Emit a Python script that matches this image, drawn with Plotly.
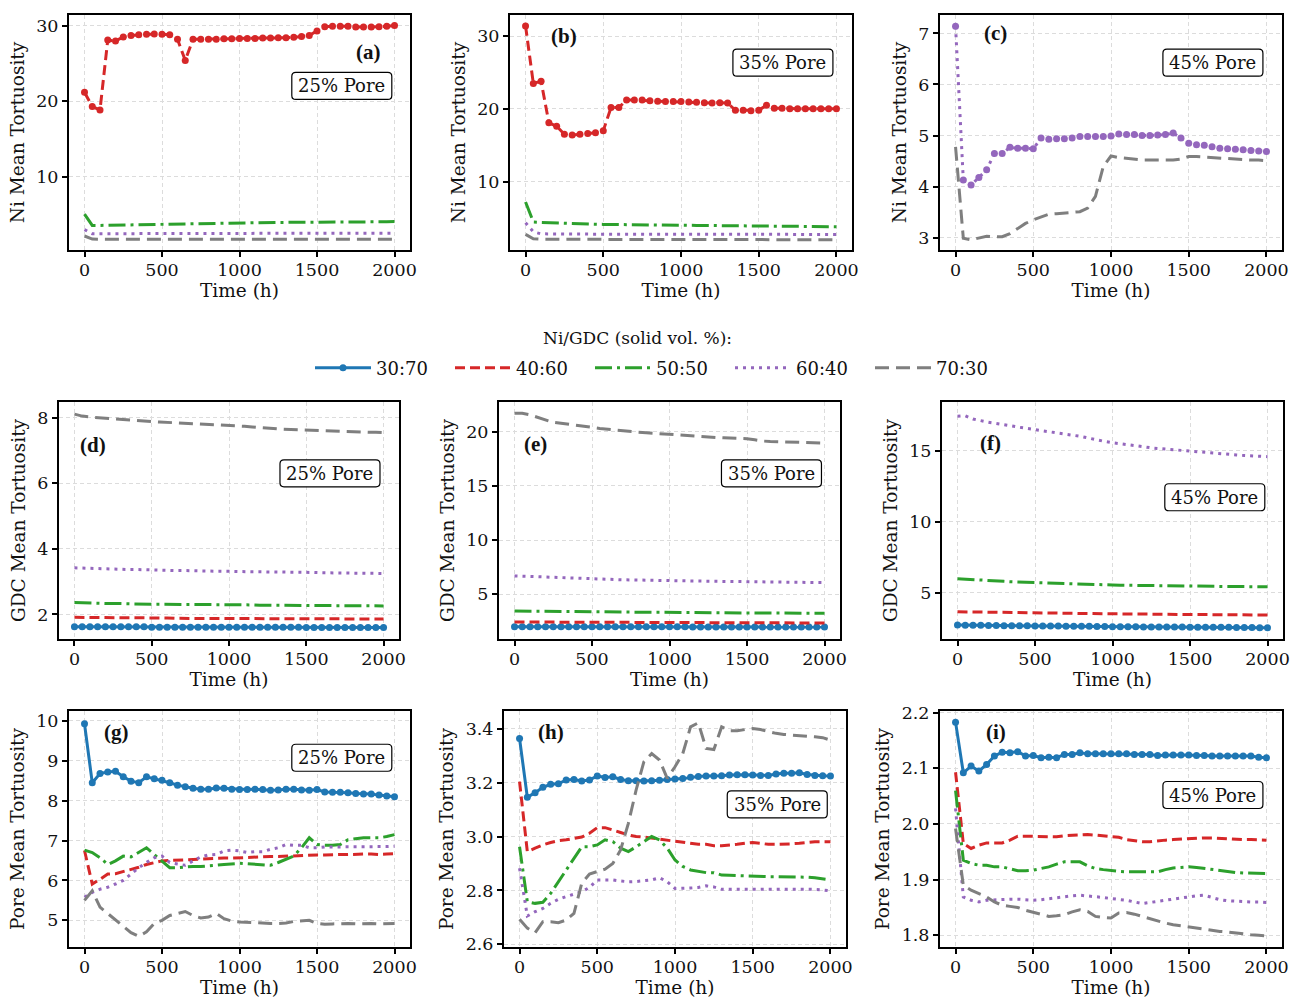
import plotly.graph_objects as go

# ---------------- data ----------------
hours = [0, 50, 100, 150, 200, 250, 300, 350, 400, 450, 500, 550, 600, 650, 700, 750,
         800, 850, 900, 950, 1000, 1050, 1100, 1150, 1200, 1250, 1300, 1350, 1400, 1450,
         1500, 1550, 1600, 1650, 1700, 1750, 1800, 1850, 1900, 1950, 2000]

series_names = ["30:70", "40:60", "50:50", "60:40", "70:30"]

# (a) Ni, 25% pore
a_4060 = [21.2, 19.3, 18.85, 28.1, 27.95, 28.5, 28.7, 28.8, 28.85, 28.9, 28.85, 28.8, 28.2, 25.4,
          28.2, 28.2, 28.2, 28.2, 28.25, 28.25, 28.3, 28.3, 28.3, 28.35, 28.35, 28.4, 28.4, 28.45,
          28.55, 28.7, 29.3, 29.85, 29.9, 29.9, 29.9, 29.8, 29.8, 29.8, 29.85, 29.9, 30.0]
a_5050 = [5.1, 3.6, 3.6, 3.62, 3.65, 3.68, 3.7, 3.72, 3.75, 3.78, 3.8, 3.82, 3.84, 3.86, 3.88,
          3.9, 3.92, 3.93, 3.94, 3.95, 3.96, 3.97, 3.98, 3.98, 3.99, 4.0, 4.0, 4.0, 4.01, 4.02,
          4.02, 4.03, 4.04, 4.04, 4.05, 4.06, 4.06, 4.07, 4.08, 4.08, 4.1]
a_6040 = [3.05, 2.5, 2.5, 2.51, 2.51, 2.52, 2.52, 2.52, 2.52, 2.53, 2.53, 2.53, 2.53, 2.53, 2.53,
          2.54, 2.54, 2.54, 2.54, 2.54, 2.54, 2.55, 2.55, 2.55, 2.55, 2.55, 2.55, 2.55, 2.56, 2.56,
          2.56, 2.56, 2.56, 2.56, 2.56, 2.57, 2.57, 2.57, 2.57, 2.57, 2.57]
a_7030 = [2.2, 1.8, 1.78, 1.78, 1.77, 1.77, 1.77, 1.77, 1.77, 1.77, 1.77, 1.77, 1.77, 1.77, 1.77,
          1.77, 1.77, 1.77, 1.77, 1.76, 1.76, 1.76, 1.76, 1.76, 1.76, 1.76, 1.76, 1.76, 1.76, 1.76,
          1.76, 1.76, 1.76, 1.76, 1.76, 1.76, 1.76, 1.76, 1.76, 1.76, 1.76]

# (b) Ni, 35% pore
b_4060 = [31.4, 23.5, 23.8, 18.1, 17.6, 16.5, 16.4, 16.5, 16.6, 16.7, 17.0, 20.2, 20.2, 21.2,
          21.2, 21.2, 21.1, 21.05, 21.0, 21.0, 21.0, 20.95, 20.9, 20.85, 20.8, 20.85, 20.8, 19.8,
          19.8, 19.75, 19.8, 20.5, 20.1, 20.1, 20.0, 20.0, 20.0, 20.0, 20.0, 20.0, 20.0]
b_5050 = [7.2, 4.45, 4.4, 4.35, 4.3, 4.25, 4.2, 4.18, 4.16, 4.14, 4.12, 4.1, 4.08, 4.07, 4.06,
          4.05, 4.04, 4.03, 4.02, 4.01, 4.0, 3.99, 3.98, 3.97, 3.96, 3.95, 3.94, 3.93, 3.92, 3.91,
          3.9, 3.89, 3.88, 3.87, 3.86, 3.85, 3.84, 3.83, 3.82, 3.81, 3.8]
b_6040 = [4.35, 3.1, 2.82, 2.8, 2.8, 2.79, 2.79, 2.79, 2.78, 2.78, 2.78, 2.78, 2.78, 2.77, 2.77,
          2.77, 2.77, 2.77, 2.77, 2.76, 2.76, 2.76, 2.76, 2.76, 2.76, 2.76, 2.75, 2.75, 2.75, 2.75,
          2.75, 2.75, 2.75, 2.75, 2.75, 2.74, 2.74, 2.74, 2.74, 2.74, 2.74]
b_7030 = [2.75, 2.15, 2.08, 2.07, 2.07, 2.06, 2.06, 2.06, 2.06, 2.06, 2.05, 2.05, 2.05, 2.05, 2.05,
          2.05, 2.05, 2.04, 2.04, 2.04, 2.04, 2.04, 2.04, 2.03, 2.03, 2.03, 2.03, 2.03, 2.03, 2.03,
          2.02, 2.02, 2.02, 2.02, 2.02, 2.02, 2.02, 2.01, 2.01, 2.01, 2.01]

# (c) Ni, 45% pore
c_6040 = [7.14, 4.13, 4.03, 4.18, 4.33, 4.65, 4.65, 4.77, 4.75, 4.75, 4.74, 4.95, 4.93, 4.94,
          4.94, 4.95, 4.98, 4.98, 4.98, 4.98, 4.99, 5.03, 5.02, 5.02, 5.0, 5.0, 5.01, 5.02, 5.05,
          4.95, 4.85, 4.82, 4.81, 4.78, 4.75, 4.74, 4.73, 4.72, 4.71, 4.7, 4.69]
c_7030 = [4.78, 2.99, 2.96, 2.99, 3.03, 3.02, 3.02, 3.08, 3.18, 3.28, 3.35, 3.41, 3.46, 3.47,
          3.48, 3.49, 3.51, 3.58, 3.81, 4.39, 4.6, 4.57, 4.55, 4.54, 4.52, 4.52, 4.52, 4.52, 4.52,
          4.54, 4.59, 4.59, 4.58, 4.57, 4.55, 4.55, 4.54, 4.53, 4.52, 4.52, 4.51]

# (d) GDC, 25% pore
d_3070 = [1.62, 1.62, 1.62, 1.62, 1.62, 1.62, 1.62, 1.62, 1.62, 1.62, 1.61, 1.61, 1.61, 1.61,
          1.61, 1.61, 1.61, 1.61, 1.61, 1.61, 1.61, 1.61, 1.61, 1.61, 1.61, 1.61, 1.61, 1.61,
          1.61, 1.61, 1.6, 1.6, 1.6, 1.6, 1.6, 1.6, 1.6, 1.6, 1.6, 1.6, 1.6]
d_4060 = [1.91, 1.91, 1.9, 1.9, 1.9, 1.9, 1.9, 1.89, 1.89, 1.89, 1.89, 1.89, 1.89, 1.88, 1.88,
          1.88, 1.88, 1.88, 1.88, 1.88, 1.88, 1.87, 1.87, 1.87, 1.87, 1.87, 1.87, 1.87, 1.87, 1.87,
          1.87, 1.86, 1.86, 1.86, 1.86, 1.86, 1.86, 1.86, 1.86, 1.86, 1.86]
d_5050 = [2.36, 2.35, 2.34, 2.34, 2.33, 2.33, 2.33, 2.32, 2.32, 2.32, 2.31, 2.31, 2.31, 2.31, 2.3,
          2.3, 2.3, 2.3, 2.3, 2.29, 2.29, 2.29, 2.29, 2.29, 2.28, 2.28, 2.28, 2.28, 2.28, 2.28,
          2.27, 2.27, 2.27, 2.27, 2.27, 2.27, 2.26, 2.26, 2.26, 2.26, 2.26]
d_6040 = [3.42, 3.41, 3.4, 3.39, 3.39, 3.38, 3.38, 3.37, 3.37, 3.36, 3.36, 3.35, 3.35, 3.34, 3.34,
          3.33, 3.33, 3.33, 3.32, 3.32, 3.31, 3.31, 3.31, 3.3, 3.3, 3.3, 3.29, 3.29, 3.29, 3.28,
          3.28, 3.28, 3.27, 3.27, 3.27, 3.26, 3.26, 3.26, 3.26, 3.25, 3.25]
d_7030 = [8.11, 8.05, 8.02, 8.0, 7.98, 7.96, 7.95, 7.93, 7.92, 7.9, 7.88, 7.87, 7.86, 7.85, 7.84,
          7.83, 7.82, 7.81, 7.8, 7.78, 7.76, 7.75, 7.74, 7.72, 7.7, 7.67, 7.66, 7.65, 7.64, 7.63,
          7.62, 7.61, 7.6, 7.6, 7.59, 7.58, 7.58, 7.57, 7.56, 7.56, 7.55]

# (e) GDC, 35% pore
e_3070 = [2.02, 2.02, 2.02, 2.02, 2.01, 2.01, 2.01, 2.01, 2.01, 2.01, 2.01, 2.01, 2.0, 2.0, 2.0,
          2.0, 2.0, 2.0, 2.0, 2.0, 2.0, 2.0, 2.0, 1.99, 1.99, 1.99, 1.99, 1.99, 1.99, 1.99, 1.99,
          1.99, 1.99, 1.99, 1.98, 1.98, 1.98, 1.98, 1.98, 1.98, 1.98]
e_4060 = [2.45, 2.45, 2.44, 2.44, 2.44, 2.43, 2.43, 2.43, 2.42, 2.42, 2.42, 2.42, 2.41, 2.41, 2.41,
          2.41, 2.4, 2.4, 2.4, 2.4, 2.4, 2.39, 2.39, 2.39, 2.39, 2.39, 2.38, 2.38, 2.38, 2.38, 2.38,
          2.37, 2.37, 2.37, 2.37, 2.37, 2.37, 2.36, 2.36, 2.36, 2.36]
e_5050 = [3.46, 3.45, 3.44, 3.43, 3.42, 3.42, 3.41, 3.4, 3.4, 3.39, 3.38, 3.38, 3.37, 3.37, 3.36,
          3.36, 3.35, 3.35, 3.34, 3.34, 3.33, 3.33, 3.32, 3.32, 3.31, 3.31, 3.3, 3.3, 3.3, 3.29,
          3.29, 3.28, 3.28, 3.28, 3.27, 3.27, 3.26, 3.26, 3.26, 3.25, 3.25]
e_6040 = [6.7, 6.67, 6.64, 6.61, 6.58, 6.55, 6.52, 6.49, 6.46, 6.43, 6.41, 6.39, 6.37, 6.36, 6.34,
          6.33, 6.31, 6.3, 6.28, 6.27, 6.26, 6.25, 6.24, 6.23, 6.22, 6.21, 6.2, 6.19, 6.18, 6.17,
          6.16, 6.15, 6.14, 6.13, 6.12, 6.11, 6.11, 6.1, 6.09, 6.09, 6.08]
e_7030 = [21.7, 21.7, 21.55, 21.3, 21.08, 20.86, 20.78, 20.7, 20.6, 20.5, 20.4, 20.3, 20.22, 20.15,
          20.08, 20.0, 19.95, 19.9, 19.85, 19.78, 19.7, 19.66, 19.62, 19.58, 19.54, 19.5, 19.47,
          19.44, 19.41, 19.38, 19.35, 19.25, 19.14, 19.1, 19.07, 19.04, 19.02, 19.0, 18.98, 18.96,
          18.95]

# (f) GDC, 45% pore
f_3070 = [2.72, 2.71, 2.7, 2.7, 2.69, 2.69, 2.68, 2.68, 2.67, 2.67, 2.66, 2.66, 2.65, 2.65, 2.64,
          2.64, 2.63, 2.63, 2.62, 2.62, 2.61, 2.61, 2.6, 2.6, 2.59, 2.59, 2.59, 2.58, 2.58, 2.58,
          2.57, 2.57, 2.57, 2.56, 2.56, 2.56, 2.55, 2.55, 2.55, 2.54, 2.54]
f_4060 = [3.66, 3.65, 3.64, 3.63, 3.62, 3.61, 3.6, 3.6, 3.59, 3.58, 3.57, 3.57, 3.56, 3.55, 3.55,
          3.54, 3.54, 3.53, 3.52, 3.52, 3.51, 3.51, 3.5, 3.5, 3.49, 3.49, 3.48, 3.48, 3.47, 3.47,
          3.47, 3.46, 3.46, 3.45, 3.45, 3.45, 3.44, 3.44, 3.44, 3.43, 3.43]
f_5050 = [5.99, 5.95, 5.92, 5.89, 5.86, 5.83, 5.8, 5.77, 5.75, 5.72, 5.7, 5.68, 5.66, 5.65, 5.63,
          5.62, 5.6, 5.59, 5.57, 5.56, 5.54, 5.53, 5.52, 5.51, 5.5, 5.49, 5.48, 5.48, 5.47, 5.46,
          5.46, 5.45, 5.45, 5.44, 5.44, 5.43, 5.43, 5.43, 5.42, 5.42, 5.42]
f_6040 = [17.42, 17.46, 17.23, 17.1, 17.0, 16.92, 16.85, 16.75, 16.65, 16.55, 16.46, 16.4, 16.32,
          16.25, 16.18, 16.1, 16.0, 15.88, 15.75, 15.65, 15.56, 15.5, 15.42, 15.35, 15.28, 15.2,
          15.15, 15.1, 15.05, 15.0, 14.98, 14.92, 14.86, 14.8, 14.76, 14.74, 14.7, 14.66, 14.63,
          14.6, 14.58]

# (g) Pore, 25% pore
g_3070 = [9.93, 8.45, 8.68, 8.72, 8.74, 8.6, 8.49, 8.45, 8.6, 8.55, 8.51, 8.45, 8.39, 8.35, 8.31,
          8.29, 8.29, 8.32, 8.31, 8.29, 8.28, 8.28, 8.29, 8.28, 8.26, 8.27, 8.29, 8.29, 8.27, 8.26,
          8.28, 8.22, 8.21, 8.21, 8.2, 8.18, 8.17, 8.17, 8.14, 8.12, 8.1]
g_4060 = [6.75, 5.91, 6.03, 6.16, 6.17, 6.22, 6.28, 6.33, 6.4, 6.45, 6.49, 6.5, 6.51, 6.52, 6.53,
          6.54, 6.54, 6.55, 6.56, 6.56, 6.57, 6.58, 6.58, 6.59, 6.6, 6.6, 6.61, 6.62, 6.62, 6.63,
          6.64, 6.64, 6.65, 6.65, 6.65, 6.66, 6.66, 6.66, 6.65, 6.66, 6.67]
g_5050 = [6.76, 6.7, 6.57, 6.4, 6.49, 6.61, 6.59, 6.7, 6.82, 6.65, 6.49, 6.32, 6.32, 6.34, 6.35,
          6.35, 6.36, 6.38, 6.4, 6.42, 6.43, 6.42, 6.41, 6.39, 6.38, 6.45, 6.53, 6.61, 6.82, 7.07,
          6.9, 6.88, 6.88, 6.9, 7.02, 7.04, 7.07, 7.07, 7.07, 7.1, 7.15]
g_6040 = [5.58, 5.7, 5.78, 5.83, 5.91, 6.0, 6.16, 6.32, 6.45, 6.57, 6.61, 6.45, 6.41, 6.38, 6.49,
          6.59, 6.64, 6.65, 6.74, 6.76, 6.74, 6.7, 6.72, 6.72, 6.78, 6.82, 6.9, 6.88, 6.88, 6.82,
          6.82, 6.84, 6.84, 6.84, 6.84, 6.84, 6.84, 6.85, 6.85, 6.85, 6.86]
g_7030 = [5.5, 5.74, 5.33, 5.17, 5.0, 4.83, 4.69, 4.6, 4.71, 4.92, 5.0, 5.12, 5.17, 5.22, 5.12,
          5.06, 5.08, 5.17, 5.04, 4.98, 4.96, 4.95, 4.93, 4.93, 4.92, 4.92, 4.93, 4.97, 4.98, 5.0,
          4.92, 4.9, 4.91, 4.92, 4.92, 4.91, 4.92, 4.92, 4.91, 4.92, 4.92]

# (h) Pore, 35% pore
h_3070 = [3.364, 3.146, 3.163, 3.183, 3.194, 3.196, 3.21, 3.212, 3.206, 3.21, 3.225, 3.219, 3.222,
          3.212, 3.207, 3.207, 3.206, 3.207, 3.209, 3.212, 3.214, 3.215, 3.22, 3.223, 3.225, 3.225,
          3.226, 3.228, 3.229, 3.229, 3.228, 3.227, 3.227, 3.232, 3.235, 3.235, 3.237, 3.23, 3.227,
          3.226, 3.225]
h_4060 = [3.204, 2.944, 2.957, 2.969, 2.978, 2.985, 2.988, 2.993, 2.998, 3.012, 3.033, 3.033, 3.025,
          3.015, 3.006, 3.0, 2.998, 2.994, 2.99, 2.985, 2.981, 2.978, 2.975, 2.971, 2.971, 2.966,
          2.966, 2.968, 2.971, 2.975, 2.978, 2.975, 2.971, 2.971, 2.971, 2.973, 2.975, 2.978, 2.981,
          2.981, 2.981]
h_5050 = [2.962, 2.758, 2.752, 2.756, 2.789, 2.832, 2.876, 2.919, 2.962, 2.962, 2.969, 2.988, 2.981,
          2.957, 2.944, 2.962, 2.981, 3.0, 2.988, 2.957, 2.913, 2.889, 2.876, 2.87, 2.866, 2.866,
          2.857, 2.856, 2.855, 2.853, 2.851, 2.851, 2.851, 2.851, 2.851, 2.85, 2.85, 2.849, 2.847,
          2.844, 2.839]
h_6040 = [2.882, 2.705, 2.721, 2.733, 2.752, 2.767, 2.777, 2.786, 2.795, 2.811, 2.839, 2.839, 2.839,
          2.835, 2.832, 2.833, 2.835, 2.839, 2.847, 2.832, 2.807, 2.807, 2.809, 2.811, 2.817, 2.813,
          2.804, 2.804, 2.804, 2.803, 2.804, 2.804, 2.803, 2.804, 2.804, 2.805, 2.805, 2.804, 2.804,
          2.802, 2.798]
h_7030 = [2.693, 2.66, 2.643, 2.684, 2.684, 2.68, 2.69, 2.715, 2.826, 2.861, 2.87, 2.879, 2.9, 2.95,
          3.049, 3.173, 3.278, 3.308, 3.284, 3.216, 3.259, 3.308, 3.407, 3.422, 3.327, 3.323, 3.407,
          3.393, 3.393, 3.397, 3.401, 3.397, 3.389, 3.383, 3.379, 3.376, 3.374, 3.372, 3.37, 3.367,
          3.358]

# (i) Pore, 45% pore
i_3070 = [2.183, 2.092, 2.104, 2.095, 2.107, 2.122, 2.129, 2.128, 2.13, 2.122, 2.123, 2.119, 2.12,
          2.119, 2.125, 2.125, 2.128, 2.126, 2.126, 2.126, 2.126, 2.126, 2.126, 2.125, 2.125, 2.125,
          2.123, 2.124, 2.124, 2.124, 2.124, 2.123, 2.123, 2.122, 2.122, 2.122, 2.122, 2.122, 2.122,
          2.12, 2.119]
i_4060 = [2.093, 1.965, 1.956, 1.962, 1.966, 1.966, 1.966, 1.971, 1.978, 1.978, 1.978, 1.978, 1.978,
          1.977, 1.979, 1.98, 1.981, 1.981, 1.98, 1.979, 1.978, 1.976, 1.972, 1.97, 1.968, 1.968,
          1.97, 1.971, 1.972, 1.973, 1.974, 1.975, 1.975, 1.975, 1.974, 1.973, 1.972, 1.972, 1.972,
          1.971, 1.971]
i_5050 = [2.06, 1.935, 1.929, 1.926, 1.926, 1.923, 1.923, 1.92, 1.916, 1.916, 1.917, 1.92, 1.923,
          1.928, 1.932, 1.932, 1.932, 1.925, 1.92, 1.918, 1.916, 1.915, 1.914, 1.914, 1.914, 1.914,
          1.914, 1.918, 1.921, 1.922, 1.923, 1.922, 1.92, 1.918, 1.916, 1.914, 1.913, 1.912, 1.912,
          1.911, 1.911]
i_6040 = [2.028, 1.869, 1.863, 1.86, 1.863, 1.864, 1.865, 1.865, 1.865, 1.864, 1.863, 1.864, 1.866,
          1.868, 1.87, 1.871, 1.872, 1.871, 1.87, 1.868, 1.866, 1.865, 1.863, 1.86, 1.857, 1.859,
          1.861, 1.863, 1.866, 1.868, 1.869, 1.871, 1.872, 1.868, 1.864, 1.862, 1.861, 1.86, 1.86,
          1.86, 1.859]
i_7030 = [1.992, 1.89, 1.881, 1.875, 1.869, 1.86, 1.854, 1.852, 1.85, 1.845, 1.841, 1.837, 1.834,
          1.835, 1.837, 1.842, 1.846, 1.843, 1.834, 1.832, 1.831, 1.84, 1.841, 1.838, 1.834, 1.83,
          1.825, 1.822, 1.819, 1.817, 1.814, 1.812, 1.811, 1.809, 1.807, 1.806, 1.804, 1.802, 1.801,
          1.8, 1.799]

x_ticks = [0, 500, 1000, 1500, 2000]
legend_title = "Ni/GDC (solid vol. %):"

# ---------------- styles ----------------
FONT = "DejaVu Serif"
TXT = "#111111"
styles = {
    "30:70": dict(color="#1f77b4", dash="solid"),
    "40:60": dict(color="#d62728", dash="10px,5px"),
    "50:50": dict(color="#2ca02c", dash="17px,5px,3px,5px"),
    "60:40": dict(color="#9467bd", dash="3px,5px"),
    "70:30": dict(color="#7f7f7f", dash="14px,7px"),
}

panels = [
    dict(label="(a)", pore="25% Pore", ytitle="Ni Mean Tortuosity",
         data={"40:60": a_4060, "50:50": a_5050, "60:40": a_6040, "70:30": a_7030},
         marked="40:60", yrange=[0.35, 31.4], yticks=[10, 20, 30], fmt="",
         px=(69, 410, 15, 250), lab=(0.877, 0.843), box=(0.80, 0.698)),
    dict(label="(b)", pore="35% Pore", ytitle="Ni Mean Tortuosity",
         data={"40:60": b_4060, "50:50": b_5050, "60:40": b_6040, "70:30": b_7030},
         marked="40:60", yrange=[0.6, 32.9], yticks=[10, 20, 30], fmt="",
         px=(510, 852, 15, 250), lab=(0.158, 0.91), box=(0.798, 0.797)),
    dict(label="(c)", pore="45% Pore", ytitle="Ni Mean Tortuosity",
         data={"60:40": c_6040, "70:30": c_7030},
         marked="60:40", yrange=[2.76, 7.36], yticks=[3, 4, 5, 6, 7], fmt="",
         px=(940, 1282, 15, 250), lab=(0.161, 0.922), box=(0.798, 0.797)),
    dict(label="(d)", pore="25% Pore", ytitle="GDC Mean Tortuosity",
         data={"30:70": d_3070, "40:60": d_4060, "50:50": d_5050, "60:40": d_6040, "70:30": d_7030},
         marked="30:70", yrange=[1.25, 8.48], yticks=[2, 4, 6, 8], fmt="",
         px=(59, 399, 402, 639), lab=(0.099, 0.82), box=(0.797, 0.699)),
    dict(label="(e)", pore="35% Pore", ytitle="GDC Mean Tortuosity",
         data={"30:70": e_3070, "40:60": e_4060, "50:50": e_5050, "60:40": e_6040, "70:30": e_7030},
         marked="30:70", yrange=[0.88, 22.74], yticks=[5, 10, 15, 20], fmt="",
         px=(499, 840, 402, 639), lab=(0.106, 0.823), box=(0.799, 0.699)),
    dict(label="(f)", pore="45% Pore", ytitle="GDC Mean Tortuosity",
         data={"30:70": f_3070, "40:60": f_4060, "50:50": f_5050, "60:40": f_6040},
         marked="30:70", yrange=[1.74, 18.43], yticks=[5, 10, 15], fmt="",
         px=(942, 1283, 402, 639), lab=(0.143, 0.826), box=(0.80, 0.598)),
    dict(label="(g)", pore="25% Pore", ytitle="Pore Mean Tortuosity",
         data={"30:70": g_3070, "40:60": g_4060, "50:50": g_5050, "60:40": g_6040, "70:30": g_7030},
         marked="30:70", yrange=[4.33, 10.25], yticks=[5, 6, 7, 8, 9, 10], fmt="",
         px=(69, 410, 711, 947), lab=(0.138, 0.91), box=(0.80, 0.802)),
    dict(label="(h)", pore="35% Pore", ytitle="Pore Mean Tortuosity",
         data={"30:70": h_3070, "40:60": h_4060, "50:50": h_5050, "60:40": h_6040, "70:30": h_7030},
         marked="30:70", yrange=[2.59, 3.466], yticks=[2.6, 2.8, 3.0, 3.2, 3.4], fmt=".1f",
         px=(504, 846, 711, 947), lab=(0.137, 0.91), box=(0.799, 0.604)),
    dict(label="(i)", pore="45% Pore", ytitle="Pore Mean Tortuosity",
         data={"30:70": i_3070, "40:60": i_4060, "50:50": i_5050, "60:40": i_6040, "70:30": i_7030},
         marked="30:70", yrange=[1.779, 2.203], yticks=[1.8, 1.9, 2.0, 2.1, 2.2], fmt=".1f",
         px=(940, 1282, 711, 947), lab=(0.164, 0.91), box=(0.798, 0.644)),
]

W, H = 1290, 999
fig = go.Figure()
layout = dict(
    width=W, height=H, margin=dict(l=0, r=0, t=0, b=0, autoexpand=False),
    paper_bgcolor="white", plot_bgcolor="white",
    font=dict(family=FONT, size=17, color=TXT),
)
annotations = []
shapes = []
BOX_W, BOX_H, RAD = 100, 27, 4


def rounded_box(cx, cy):
    # cx, cy in pixels -> path in paper coordinates
    x0, x1 = cx - BOX_W / 2, cx + BOX_W / 2
    y0, y1 = cy - BOX_H / 2, cy + BOX_H / 2
    X = lambda v: v / W
    Y = lambda v: 1 - v / H
    r = RAD
    d = (f"M{X(x0 + r)},{Y(y0)} L{X(x1 - r)},{Y(y0)} Q{X(x1)},{Y(y0)} {X(x1)},{Y(y0 + r)} "
         f"L{X(x1)},{Y(y1 - r)} Q{X(x1)},{Y(y1)} {X(x1 - r)},{Y(y1)} "
         f"L{X(x0 + r)},{Y(y1)} Q{X(x0)},{Y(y1)} {X(x0)},{Y(y1 - r)} "
         f"L{X(x0)},{Y(y0 + r)} Q{X(x0)},{Y(y0)} {X(x0 + r)},{Y(y0)} Z")
    return dict(type="path", path=d, xref="paper", yref="paper", layer="above",
                line=dict(color="black", width=1.2), fillcolor="white")


for k, p in enumerate(panels):
    n = k + 1
    xa = "x" if n == 1 else f"x{n}"
    ya = "y" if n == 1 else f"y{n}"
    xl, xr, yt, yb = p["px"]
    for name in series_names:
        if name not in p["data"]:
            continue
        st = styles[name]
        is_m = (name == p["marked"])
        fig.add_trace(go.Scatter(
            x=hours, y=p["data"][name], xaxis=xa, yaxis=ya,
            mode="lines+markers" if is_m else "lines",
            name=name, legendgroup=name,
            showlegend=(k == 3),
            line=dict(color=st["color"], width=3, dash=st["dash"]),
            marker=dict(size=7, color=st["color"]) if is_m else None,
        ))
    axis_common = dict(
        showline=True, linecolor="black", linewidth=2, mirror=True, automargin=False,
        ticks="outside", ticklen=5, tickwidth=1.5, tickcolor="black",
        showgrid=True, gridcolor="#dcdcdc", gridwidth=0.8, griddash="4px,3px",
        zeroline=False, tickfont=dict(family=FONT, size=17.5, color=TXT),
    )
    layout["xaxis" if n == 1 else f"xaxis{n}"] = dict(
        axis_common, domain=[xl / W, xr / W], anchor=ya, range=[-100, 2100],
        tickvals=x_ticks, ticklabelstandoff=-2,
        title=dict(text="Time (h)", font=dict(family=FONT, size=18.5, color=TXT), standoff=4),
    )
    layout["yaxis" if n == 1 else f"yaxis{n}"] = dict(
        axis_common, domain=[1 - yb / H, 1 - yt / H], anchor=xa, range=p["yrange"],
        tickvals=p["yticks"], tickformat=p["fmt"],
        title=dict(text=p["ytitle"], font=dict(family=FONT, size=18.5, color=TXT), standoff=7),
    )
    annotations.append(dict(
        x=p["lab"][0], y=p["lab"][1], xref=f"{xa} domain", yref=f"{ya} domain",
        text="<b>" + p["label"] + "</b>", showarrow=False,
        font=dict(family="Liberation Serif", size=21, color=TXT),
        xanchor="center", yanchor="middle",
    ))
    cx = xl + p["box"][0] * (xr - xl)
    cy = yt + (1 - p["box"][1]) * (yb - yt)
    shapes.append(rounded_box(cx, cy))
    annotations.append(dict(
        x=p["box"][0], y=p["box"][1], xref=f"{xa} domain", yref=f"{ya} domain",
        text=p["pore"], showarrow=False,
        font=dict(family=FONT, size=18, color=TXT),
        xanchor="center", yanchor="middle",
    ))

annotations.append(dict(
    x=637 / W, y=1 - 338 / H, xref="paper", yref="paper", text=legend_title,
    showarrow=False, font=dict(family=FONT, size=17, color=TXT),
    xanchor="center", yanchor="middle",
))

layout["annotations"] = annotations
layout["shapes"] = shapes
layout["legend"] = dict(
    orientation="h", x=310 / W, xanchor="left", y=1 - 368 / H, yanchor="middle",
    font=dict(family=FONT, size=18, color=TXT),
    itemwidth=56, entrywidth=69, bgcolor="rgba(0,0,0,0)",
)
fig.update_layout(**layout)
fig.write_html("out.html")
